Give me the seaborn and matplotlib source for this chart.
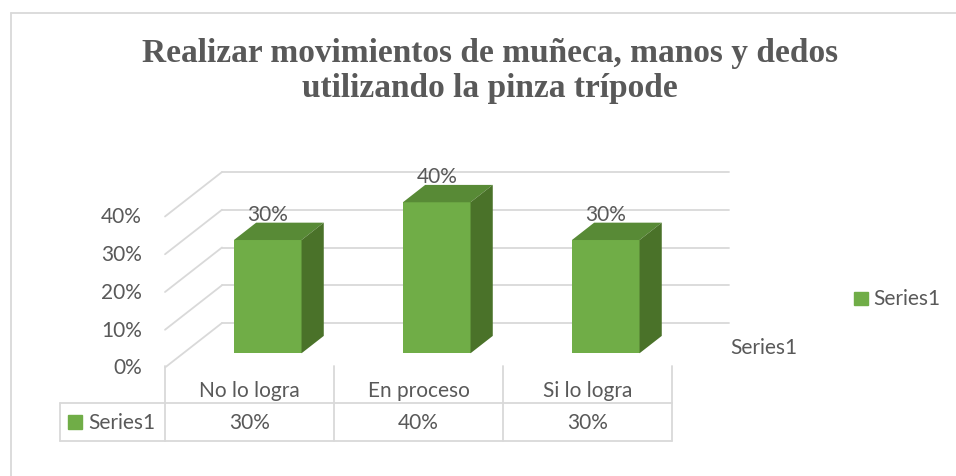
import matplotlib
matplotlib.use("Agg")
import matplotlib.pyplot as plt
import matplotlib.transforms as mtransforms
from matplotlib.patches import Polygon, Rectangle
from matplotlib.lines import Line2D
import seaborn as sns

categories = ["No lo logra", "En proceso", "Si lo logra"]
values = [30, 40, 30]
tick_values = [0, 10, 20, 30, 40]
series_name = "Series1"
title_lines = ["Realizar movimientos de muñeca, manos y dedos",
               "utilizando la pinza trípode"]

sns.set_style("white")
plt.rcParams["font.family"] = ["Lato", "DejaVu Sans"]

TXT = "#595959"
GRID = "#d9d9d9"
FRONT_C, TOP_C, SIDE_C = "#70AD47", "#588A36", "#4A7229"

W, H = 956, 477
COL_W = 169.0        # px per category
X0, Y0 = 165.0, 368.5  # front-left corner of the floor (px)
PPU = 3.775          # px per percent
DEPTH_X, DEPTH_Y = 57.0, 44.5
FRONT, BAR_D = 0.32, 0.39

DX = DEPTH_X / COL_W
DY = DEPTH_Y / PPU
ymax = max(tick_values)


def fx(x):
    return x / W


def fy(y):
    return 1 - y / H


fig = plt.figure(figsize=(W / 100, H / 100), dpi=100)
ax = fig.add_axes([fx(X0), fy(Y0), (len(categories) * COL_W + DEPTH_X) / W,
                   (ymax * PPU + DEPTH_Y) / H])

sns.barplot(x=categories, y=values, color=FRONT_C, saturation=1, width=0.4,
            linewidth=0, ax=ax, zorder=3)
ax.set_xlim(-0.5, len(categories) - 0.5 + DX)
ax.set_ylim(0, ymax + DY)
ax.axis("off")

# back wall and side wall gridlines
x_left = -0.5
x_right = len(categories) - 0.5
for v in tick_values:
    ax.plot([x_left + DX, x_right + DX], [v + DY, v + DY], color=GRID, lw=1.3,
            zorder=1, clip_on=False)
    ax.plot([x_left, x_left + DX], [v, v + DY], color=GRID, lw=1.3,
            zorder=1, clip_on=False)
    ax.annotate(f"{v}%", (x_left, v), xytext=(-23, 0), textcoords="offset pixels",
                ha="right", va="center", fontsize=15, color=TXT)

# push the bars back into the box and add top/side faces
shift = mtransforms.Affine2D().translate(FRONT * DX, FRONT * DY) + ax.transData
for p, v in zip(list(ax.patches), values):
    p.set_transform(shift)
    x0 = p.get_x() + FRONT * DX
    w = p.get_width()
    b = FRONT * DY
    t = b + p.get_height()
    ddx, ddy = BAR_D * DX, BAR_D * DY
    ax.add_patch(Polygon([(x0, t), (x0 + w, t), (x0 + w + ddx, t + ddy), (x0 + ddx, t + ddy)],
                         closed=True, facecolor=TOP_C, lw=0, zorder=3, clip_on=False))
    ax.add_patch(Polygon([(x0 + w, b), (x0 + w + ddx, b + ddy), (x0 + w + ddx, t + ddy), (x0 + w, t)],
                         closed=True, facecolor=SIDE_C, lw=0, zorder=3, clip_on=False))
    ax.annotate(f"{v}%", (x0 + w / 2, t), xytext=(0, 26), textcoords="offset pixels",
                ha="center", va="center", fontsize=15, color=TXT, zorder=4)

# data table under the chart
blend = mtransforms.blended_transform_factory(ax.transData, fig.transFigure)
for i in range(len(categories) + 1):
    fig.add_artist(Line2D([x_left + i, x_left + i], [fy(367), fy(441.7)],
                          transform=blend, color=GRID, lw=1.3))
for yy in (404, 441.7):
    fig.add_artist(Line2D([fx(60), fx(X0)], [fy(yy), fy(yy)], color=GRID, lw=1.3))
    fig.add_artist(Line2D([x_left, x_right], [fy(yy), fy(yy)], transform=blend,
                          color=GRID, lw=1.3))
fig.add_artist(Line2D([fx(60), fx(60)], [fy(404), fy(441.7)], color=GRID, lw=1.3))
for i, (c, v) in enumerate(zip(categories, values)):
    fig.text(i, fy(391), c, transform=blend, ha="center", va="center",
             fontsize=15, color=TXT)
    fig.text(i, fy(423), f"{v}%", transform=blend, ha="center", va="center",
             fontsize=15, color=TXT)
fig.add_artist(Rectangle((fx(68), fy(430)), 14 / W, 14 / H, color=FRONT_C))
fig.text(fx(88), fy(423), series_name, ha="left", va="center", fontsize=15, color=TXT)

# depth axis label and legend
fig.text(fx(730), fy(348), series_name, ha="left", va="center", fontsize=15, color=TXT)
fig.add_artist(Rectangle((fx(854), fy(306)), 14 / W, 13 / H, color=FRONT_C))
fig.text(fx(873), fy(299), series_name, ha="left", va="center", fontsize=15, color=TXT)

# title
for txt, base in zip(title_lines, (61.7, 96.7)):
    fig.text(fx(490), fy(base), txt, ha="center", va="baseline",
             family="Liberation Serif", weight="bold", fontsize=24, color=TXT)

# outer chart frame
fig.add_artist(Line2D([fx(11), 1], [fy(14), fy(14)], color=GRID, lw=1.3))
fig.add_artist(Line2D([fx(11), fx(11)], [fy(14), 0], color=GRID, lw=1.3))

fig.savefig("out.png", dpi=100)
